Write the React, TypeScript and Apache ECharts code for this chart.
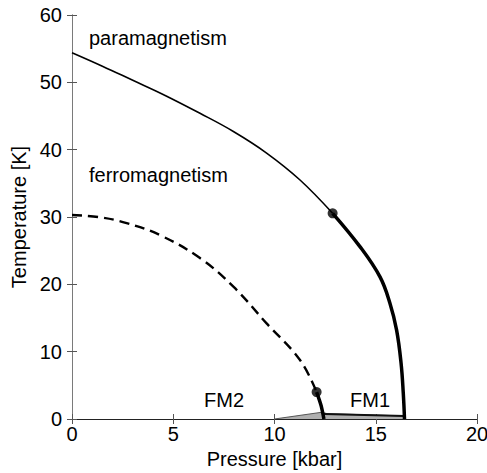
import React, { useEffect, useRef } from "react";
import * as echarts from "echarts";

// Phase boundaries in the pressure–temperature plane: [P (kbar), T (K)]
const paraBoundaryThin: number[][] = [
  [0, 54.4], [1.5, 52.4], [3.0, 50.3], [4.5, 48.2], [6.32, 45.4],
  [7.97, 42.7], [9.61, 39.5], [11.26, 35.5], [12.87, 30.55],
];
const paraBoundaryThick: number[][] = [
  [12.87, 30.55], [14.22, 25.6], [15.21, 21.1], [15.7, 17.2],
  [16.03, 13.2], [16.25, 8.3], [16.36, 3.8], [16.42, 0.0],
];
const ferroBoundaryDashed: number[][] = [
  [0, 30.3], [1.4, 29.95], [2.7, 29.1], [4.35, 27.3], [6.32, 23.9],
  [7.97, 19.65], [9.61, 14.2], [11.26, 8.76], [12.08, 4.0],
];
const ferroBoundaryThick: number[][] = [
  [12.08, 4.0], [12.3, 2.0], [12.44, 0.0],
];
const tricriticalPoints: number[][] = [
  [12.87, 30.55], [12.08, 4.0],
];
const coexistenceWedge: number[][] = [
  [10, 0], [12.33, 1.0], [12.6, 0.8], [16.42, 0.45],
];
const coexistenceTop: number[][] = [
  [12.44, 0.75], [16.42, 0.45],
];

const xTicks = { min: 0, max: 20, interval: 5 };
const yTicks = { min: 0, max: 60, interval: 10 };

const FONT = "'Liberation Sans', Arial, Helvetica, sans-serif";

export default function App() {
  const ref = useRef<HTMLDivElement>(null);

  useEffect(() => {
    document.body.style.margin = "0";
    if (!ref.current) return;
    const chart = echarts.init(ref.current, null, { renderer: "svg" });

    const inside = { show: true, inside: true, length: 5, lineStyle: { color: "#555", width: 1 } };

    chart.setOption({
      animation: false,
      backgroundColor: "#fff",
      textStyle: { fontFamily: FONT },
      grid: { left: 72, right: 10, top: 15, bottom: 54, containLabel: false, outerBoundsMode: "none" },
      xAxis: [
        {
          type: "value",
          position: "bottom",
          ...xTicks,
          name: "Pressure [kbar]",
          nameLocation: "middle",
          nameGap: 30,
          nameTextStyle: { fontSize: 20, color: "#000", fontFamily: FONT },
          axisLine: { show: true, lineStyle: { color: "#000", width: 1 } },
          axisTick: inside,
          axisLabel: { fontSize: 20, color: "#000", margin: 5, fontFamily: FONT },
          splitLine: { show: false },
        },
        {
          type: "value",
          position: "top",
          ...xTicks,
          axisLine: { show: true, lineStyle: { color: "#222", width: 1 } },
          axisTick: inside,
          axisLabel: { show: false },
          splitLine: { show: false },
        },
      ],
      yAxis: [
        {
          type: "value",
          position: "left",
          ...yTicks,
          name: "Temperature [K]",
          nameLocation: "middle",
          nameGap: 38,
          nameTextStyle: { fontSize: 20, color: "#000", fontFamily: FONT },
          axisLine: { show: true, lineStyle: { color: "#7a7a7a", width: 1 } },
          axisTick: inside,
          axisLabel: { fontSize: 20, color: "#000", margin: 10, fontFamily: FONT },
          splitLine: { show: false },
        },
        {
          type: "value",
          position: "right",
          ...yTicks,
          axisLine: { show: true, lineStyle: { color: "#7a7a7a", width: 1 } },
          axisTick: inside,
          axisLabel: { show: false },
          splitLine: { show: false },
        },
      ],
      series: [
        {
          type: "line",
          data: coexistenceWedge,
          symbol: "none",
          lineStyle: { color: "#555", width: 1 },
          areaStyle: { color: "#b0b0b0", opacity: 1 },
          z: 1,
        },
        {
          type: "line",
          data: coexistenceTop,
          symbol: "none",
          lineStyle: { color: "#111", width: 2 },
          z: 2,
        },
        {
          type: "line",
          data: paraBoundaryThin,
          symbol: "none",
          smooth: 0.4,
          lineStyle: { color: "#000", width: 1.6 },
          z: 3,
        },
        {
          type: "line",
          data: paraBoundaryThick,
          symbol: "none",
          smooth: 0.4,
          lineStyle: { color: "#000", width: 3.5 },
          z: 3,
        },
        {
          type: "line",
          data: ferroBoundaryDashed,
          symbol: "none",
          smooth: 0.4,
          lineStyle: { color: "#000", width: 2.4, type: [10, 6] },
          z: 3,
        },
        {
          type: "line",
          data: ferroBoundaryThick,
          symbol: "none",
          smooth: 0.3,
          lineStyle: { color: "#000", width: 3.5 },
          z: 3,
        },
        {
          type: "scatter",
          data: tricriticalPoints,
          symbol: "circle",
          symbolSize: 10,
          itemStyle: { color: "#000" },
          z: 4,
        },
      ],
      graphic: [
        { type: "text", left: 89, top: 28, style: { text: "paramagnetism", fontSize: 20, fontFamily: FONT, fill: "#000" } },
        { type: "text", left: 89, top: 165, style: { text: "ferromagnetism", fontSize: 20, fontFamily: FONT, fill: "#000" } },
        { type: "text", left: 204, top: 390, style: { text: "FM2", fontSize: 20, fontFamily: FONT, fill: "#000" } },
        { type: "text", left: 350, top: 390, style: { text: "FM1", fontSize: 20, fontFamily: FONT, fill: "#000" } },
      ],
    });

    return () => chart.dispose();
  }, []);

  return <div ref={ref} style={{ width: 487, height: 473 }} />;
}
